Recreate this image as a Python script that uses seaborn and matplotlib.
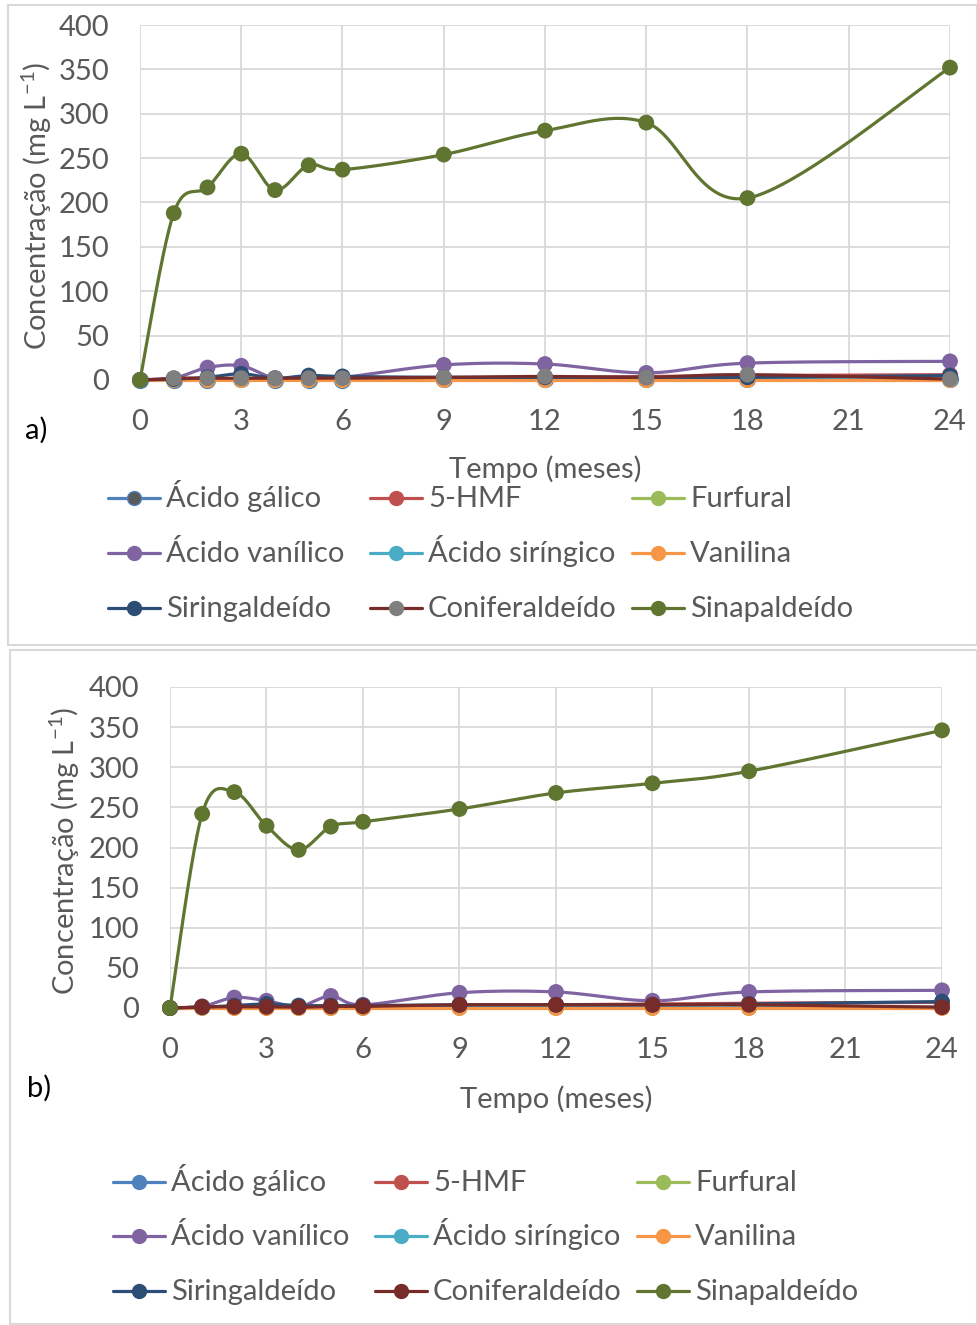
import numpy as np
import matplotlib
matplotlib.use("Agg")
import matplotlib.pyplot as plt
from matplotlib.lines import Line2D
from matplotlib.patches import Rectangle
import seaborn as sns

sns.set_theme(style="white")
plt.rcParams["font.family"] = ["Lato", "DejaVu Sans"]
plt.rcParams["mathtext.fontset"] = "custom"
plt.rcParams["mathtext.rm"] = "Lato"

# ---- data -------------------------------------------------------------
meses = [0, 1, 2, 3, 4, 5, 6, 9, 12, 15, 18, 24]
compostos = ["Ácido gálico", "5-HMF", "Furfural",
             "Ácido vanílico", "Ácido siríngico", "Vanilina",
             "Siringaldeído", "Coniferaldeído", "Sinapaldeído"]

a_galico = [0, 0.5, 0.5, 1, 0.5, 0.5, 0.5, 1, 1, 1, 1, 1]
a_hmf = [0, 0.5, 0.5, 1, 1, 1, 1.5, 2, 3, 4, 5, 6]
a_furfural = [0, 0, 0, 0, 0, 0, 0, 0, 0, 0, 0, 0.5]
a_vanilico = [0, 2, 14, 16, 2, 4, 3, 17, 18, 8, 19, 21]
a_siringico = [0, 0.5, 0.5, 0.5, 0.5, 0.5, 0.5, 0.5, 0.5, 0.5, 0.5, 0.5]
a_vanilina = [0, 0, 0, 0, 0, 0, 0, 0, 0, 0, 0, 0]
a_siringaldeido = [0, 1, 3, 7, 2, 5, 4, 3, 3, 3, 3, 5]
a_coniferaldeido = [0, 2, 2, 2, 2, 2, 2, 3, 4, 3, 6, 1]
a_sinapaldeido = [0, 188, 217, 255, 214, 242, 237, 254, 281, 290, 205, 352]

b_galico = [0, 0.5, 0.5, 1, 0.5, 0.5, 0.5, 1, 1, 1, 1, 1]
b_hmf = [0, 1, 1, 1, 1, 1, 2, 3, 4, 5, 6, 7]
b_furfural = [0, 0, 0, 0, 0, 0, 0, 0, 0, 0, 0, 0.5]
b_vanilico = [0, 2, 13, 9, 2, 15, 4, 19, 20, 9, 20, 22]
b_siringico = [0, 0.5, 0.5, 0.5, 0.5, 0.5, 0.5, 0.5, 0.5, 0.5, 0.5, 0.5]
b_vanilina = [0, 0, 0, 0, 0, 0, 0, 0, 0, 0, 0, 0]
b_siringaldeido = [0, 1, 3, 5, 3, 3, 3, 4, 4, 4, 5, 8]
b_coniferaldeido = [0, 1.5, 1.5, 1.5, 1, 2, 2, 4, 4, 4, 4, 1]
b_sinapaldeido = [0, 242, 269, 227, 197, 226, 232, 248, 268, 280, 295, 346]

x_ticks = [0, 3, 6, 9, 12, 15, 18, 21, 24]
y_ticks = [0, 50, 100, 150, 200, 250, 300, 350, 400]

painel_a = [a_galico, a_hmf, a_furfural, a_vanilico, a_siringico,
            a_vanilina, a_siringaldeido, a_coniferaldeido, a_sinapaldeido]
painel_b = [b_galico, b_hmf, b_furfural, b_vanilico, b_siringico,
            b_vanilina, b_siringaldeido, b_coniferaldeido, b_sinapaldeido]

# ---- styles -----------------------------------------------------------
cores_linha = ["#4F81BD", "#C0504D", "#9BBB59", "#8064A2", "#4BACC6",
               "#F79646", "#2C4D75", "#772C2A", "#5F7530"]
cores_marc_a = list(cores_linha)
cores_marc_a[0] = "#595959"
cores_marc_a[7] = "#7F7F7F"
cores_marc_b = list(cores_linha)

W, H = 978, 1325
TXT = "#595959"
GRID = "#D9D9D9"
FS = 21


def suave(x, y, n=40):
    """Cubic Bezier smoothing through every point (spreadsheet style)."""
    p = np.column_stack([x, y]).astype(float)
    out = [p[:1]]
    m = len(p)
    for i in range(m - 1):
        p0, p3 = p[i], p[i + 1]
        pm = p[i - 1] if i > 0 else p0
        pn = p[i + 2] if i + 2 < m else p3
        c1 = p0 + (p3 - pm) / 6.0
        c2 = p3 - (pn - p0) / 6.0
        t = np.linspace(0, 1, n)[1:, None]
        seg = ((1 - t) ** 3) * p0 + 3 * ((1 - t) ** 2) * t * c1 \
            + 3 * (1 - t) * t ** 2 * c2 + t ** 3 * p3
        out.append(seg)
    q = np.vstack(out)
    return q[:, 0], q[:, 1]


def fr(x0, y0, x1, y1):
    return [x0 / W, 1 - y1 / H, (x1 - x0) / W, (y1 - y0) / H]


fig = plt.figure(figsize=(W / 100, H / 100), dpi=100)
fig.patch.set_facecolor("white")

# panel frames
fig.patches.append(Rectangle((8 / W, 1 - 645 / H), (W - 9) / W, 640 / H,
                             transform=fig.transFigure, fill=False,
                             edgecolor=GRID, lw=1.5))
fig.patches.append(Rectangle((10 / W, 1 - 1324 / H), (W - 11) / W, 674 / H,
                             transform=fig.transFigure, fill=False,
                             edgecolor=GRID, lw=1.5))


def legenda(cores_marc, col_x, row_y):
    """Three-column legend, filled row by row, at pixel positions."""
    for k, nome in enumerate(compostos):
        x0 = col_x[k % 3]
        y0 = row_y[k // 3]
        yy = 1 - y0 / H
        fig.add_artist(Line2D([x0 / W, (x0 + 52) / W], [yy, yy],
                              transform=fig.transFigure,
                              color=cores_linha[k], lw=2.3))
        fig.add_artist(Line2D([(x0 + 26) / W], [yy], transform=fig.transFigure,
                              marker="o", markersize=10, lw=0,
                              markerfacecolor=cores_marc[k],
                              markeredgecolor=cores_linha[k] if k == 0 else cores_marc[k]))
        fig.text((x0 + 58) / W, 1 - (y0 + 9) / H, nome, fontsize=FS,
                 color=TXT, ha="left", va="baseline")


def painel(rect, series, cores_marc, letra, letra_xy, ylab_x, xlab_y,
           leg_x, leg_y):
    ax = fig.add_axes(rect)
    for k, (nome, vals) in enumerate(zip(compostos, series)):
        xs, ys = suave(meses, vals)
        ax.plot(xs, ys, color=cores_linha[k], lw=2.3, zorder=3 + k,
                solid_capstyle="round", clip_on=False)
        sns.scatterplot(x=meses, y=vals, ax=ax, color=cores_marc[k],
                        s=130,
                        edgecolor=cores_linha[k] if cores_marc[k] != cores_linha[k] and k == 0 else "none",
                        linewidth=1.0, zorder=3.5 + k, legend=False,
                        clip_on=False)
    ax.set_xlim(0, 24)
    ax.set_ylim(0, 400)
    ax.set_xticks(x_ticks)
    ax.set_yticks(y_ticks)
    ax.grid(True, color=GRID, lw=1.3)
    ax.set_axisbelow(True)
    for s in ax.spines.values():
        s.set_visible(False)
    ax.tick_params(axis="both", length=0, labelsize=FS, labelcolor=TXT)
    ax.tick_params(axis="y", pad=22)
    ax.tick_params(axis="x", pad=21)
    ax.set_ylabel(r"Concentração (mg L$^{\mathregular{-1}}$)", fontsize=FS,
                  color=TXT)
    ax.set_xlabel("Tempo (meses)", fontsize=FS, color=TXT)
    l, b, w, h = rect
    ax.yaxis.label.set_va("center")
    ax.yaxis.set_label_coords((ylab_x / W - l) / w, 0.49)
    ax.xaxis.label.set_va("center")
    ax.xaxis.set_label_coords(0.5, ((1 - xlab_y / H) - b) / h)
    fig.text(letra_xy[0] / W, 1 - letra_xy[1] / H, letra, fontsize=FS,
             color="black", ha="left", va="center")
    legenda(cores_marc, leg_x, leg_y)
    return ax


painel(fr(140, 25, 950, 380), painel_a, cores_marc_a, "a)", (25, 430),
       37, 469, [108, 370, 632], [498, 553, 608])
painel(fr(170, 687, 942, 1008), painel_b, cores_marc_b, "b)", (27, 1088),
       65, 1099, [113, 375, 637], [1182, 1236, 1291])

fig.savefig("out.png", dpi=100, facecolor="white")
